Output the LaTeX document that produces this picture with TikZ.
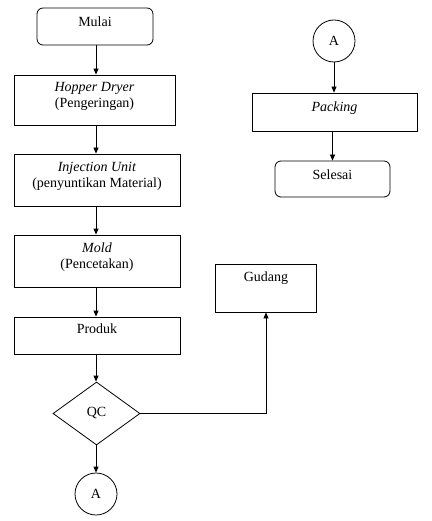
\documentclass[tikz,border=0pt]{standalone}
\usepackage{fontspec}
\setmainfont{Liberation Serif}
\usetikzlibrary{shapes.geometric,arrows.meta}
\begin{document}
\begin{tikzpicture}[x=1pt,y=-1pt,
  proc/.style 2 args={draw, rectangle, minimum width=#1, minimum height=#2, inner sep=0pt, line width=0.8pt},
  term/.style 2 args={proc={#1}{#2}, rounded corners=6pt},
  conn/.style={draw, circle, minimum size=42pt, inner sep=0pt, line width=0.8pt, font=\fontsize{14}{16}\selectfont},
  decis/.style={draw, diamond, minimum width=87pt, minimum height=63pt, inner sep=0pt, line width=0.8pt, font=\fontsize{14}{16}\selectfont},
  lbl/.style={anchor=north, inner sep=0pt, align=center, font=\fontsize{14}{16}\selectfont},
  flow/.style={draw, line width=0.8pt, -{Triangle[length=6pt,width=5pt]}}]
\useasboundingbox (0,0) rectangle (431,521);
\coordinate (col) at (96,0);
% left column
\node[term={116pt}{37pt}] (mulai) at (95,26.5) {};
\node[lbl] (mulaiT) at ([yshift=-8.5pt]mulai.north) {Mulai};
\node[proc={161pt}{50pt}] (hopper) at (94.5,100) {};
\node[lbl] (hopperT) at ([yshift=-8pt]hopper.north) {\textit{Hopper Dryer}\\(Pengeringan)};
\node[proc={166pt}{52pt}] (inject) at (97,180) {};
\node[lbl] (injectT) at ([yshift=-8pt]inject.north) {\textit{Injection Unit}\\(penyuntikan Material)};
\node[proc={166pt}{52pt}] (mold) at (97,261) {};
\node[lbl] (moldT) at ([yshift=-8pt]mold.north) {\textit{Mold}\\(Pencetakan)};
\node[proc={166pt}{37pt}] (produk) at (97,335.5) {};
\node[lbl] (produkT) at ([yshift=-7pt]produk.north) {Produk};
\node[decis] (qc) at (96.5,413.5) {\raisebox{3pt}{QC}};
\node[conn] (a1) at (96,494) {A};
% gudang
\node[proc={101pt}{48pt}] (gudang) at (266,288) {};
\node[lbl] (gudangT) at ([yshift=-8pt]gudang.north) {Gudang};
% right column
\node[conn] (a2) at (334,41) {A};
\node[proc={165pt}{38pt}] (packing) at (334.5,112) {};
\node[lbl] (packingT) at ([yshift=-9pt]packing.north) {\textit{Packing}};
\node[term={115pt}{36pt}] (selesai) at (332.5,179) {};
\node[lbl] (selesaiT) at ([yshift=-8.5pt]selesai.north) {Selesai};
% connectors
\draw[flow] (col |- mulai.south) -- (col |- hopper.north);
\draw[flow] (col |- hopper.south) -- (col |- inject.north);
\draw[flow] (col |- inject.south) -- (col |- mold.north);
\draw[flow] (col |- mold.south) -- (col |- produk.north);
\draw[flow] (col |- produk.south) -- (col |- qc.north);
\draw[flow] (col |- qc.south) -- (a1.north);
\draw[flow] (qc.east) -| (gudang.south);
\draw[flow] (a2.south) -- (a2.south |- packing.north);
\draw[flow] (selesai |- packing.south) -- (selesai.north);
\end{tikzpicture}
\end{document}
